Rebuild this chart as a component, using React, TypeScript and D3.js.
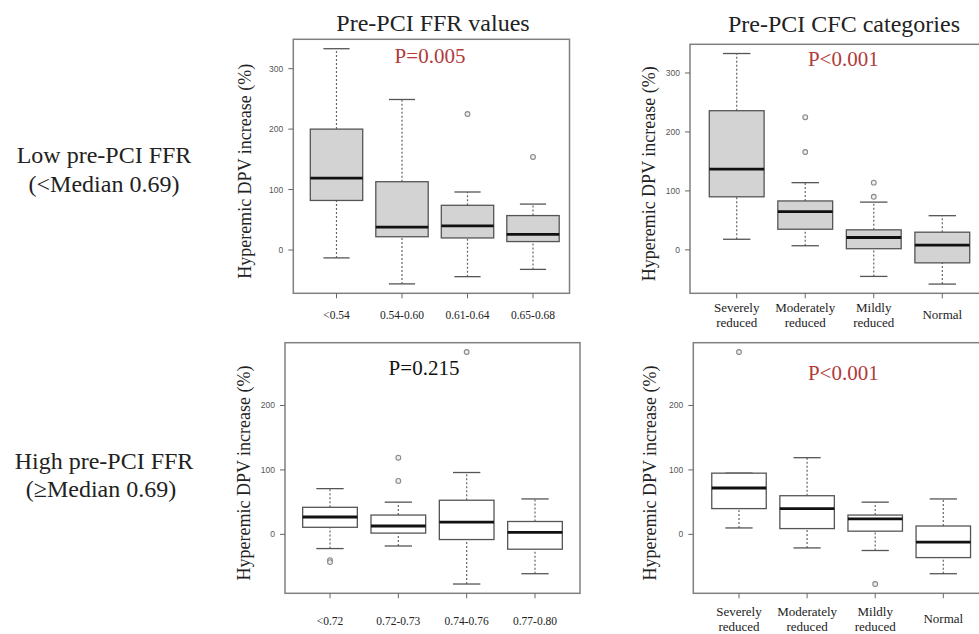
import React from 'react';
import * as d3 from 'd3';

// categories
const lowFfrCats = ['<0.54', '0.54-0.60', '0.61-0.64', '0.65-0.68'];
const highFfrCats = ['<0.72', '0.72-0.73', '0.74-0.76', '0.77-0.80'];
const cfcCats = ['Severely reduced', 'Moderately reduced', 'Mildly reduced', 'Normal'];

// box stats: [lower whisker, Q1, median, Q3, upper whisker]
const lowFfrStats = [
  [-13, 82, 119, 200, 333],
  [-56, 22, 38, 113, 249],
  [-44, 20, 40, 74, 96],
  [-32, 14, 26, 57, 76],
];
const lowFfrOutliers = [[], [], [225], [154]];

const lowCfcStats = [
  [18, 90, 137, 236, 333],
  [7, 35, 65, 83, 114],
  [-45, 2, 21, 34, 81],
  [-58, -22, 8, 30, 58],
];
const lowCfcOutliers = [[], [225, 166], [114, 90], []];

const highFfrStats = [
  [-22, 11, 27, 42, 71],
  [-18, 2, 13, 30, 50],
  [-77, -8, 19, 53, 96],
  [-61, -23, 3, 20, 55],
];
const highFfrOutliers = [[-40, -43], [119, 83], [283], []];

const highCfcStats = [
  [10, 40, 72, 95, 95],
  [-21, 9, 40, 60, 119],
  [-25, 5, 24, 30, 50],
  [-61, -36, -12, 13, 55],
];
const highCfcOutliers = [[283], [], [-77], []];

const topTicks = [0, 100, 200, 300];
const bottomTicks = [0, 100, 200];

const serif = '"Liberation Serif", "Times New Roman", serif';
const sans = '"Liberation Sans", Arial, sans-serif';
const red = '#b23a3a';

const Panel = (props) => {
  const { cats, stats, outliers, ticks, frame, xs, fill, pText, pColor, pPos, yLabelX, labelY, twoLine } = props;

  // R-style ylim: data range extended by 4%
  const all = stats.flat().concat(outliers.flat());
  const [lo, hi] = d3.extent(all);
  const pad = (hi - lo) * 0.04;
  const y = d3.scaleLinear().domain([lo - pad, hi + pad]).range([frame.bottom, frame.top]);
  const x = d3.scalePoint().domain(cats).range(xs);
  const step = (xs[1] - xs[0]) / (cats.length - 1);
  const bw = step * 0.8;

  return (
    <g>
      {stats.map((s, i) => {
        const cx = x(cats[i]);
        return (
          <g key={i}>
            <line x1={cx} x2={cx} y1={y(s[0])} y2={y(s[1])} stroke="#666" strokeWidth={1.2} strokeDasharray="2,2" />
            <line x1={cx} x2={cx} y1={y(s[3])} y2={y(s[4])} stroke="#666" strokeWidth={1.2} strokeDasharray="2,2" />
            <line x1={cx - bw / 4} x2={cx + bw / 4} y1={y(s[0])} y2={y(s[0])} stroke="#555" strokeWidth={1.3} />
            <line x1={cx - bw / 4} x2={cx + bw / 4} y1={y(s[4])} y2={y(s[4])} stroke="#555" strokeWidth={1.3} />
            <rect x={cx - bw / 2} y={y(s[3])} width={bw} height={y(s[1]) - y(s[3])} fill={fill} stroke="#555" strokeWidth={1.3} />
            <line x1={cx - bw / 2} x2={cx + bw / 2} y1={y(s[2])} y2={y(s[2])} stroke="#111" strokeWidth={2.8} />
            {outliers[i].map((o, j) => (
              <circle key={j} cx={cx} cy={y(o)} r={2.4} fill="#eee" stroke="#888" strokeWidth={1.1} />
            ))}
          </g>
        );
      })}
      <rect x={frame.left} y={frame.top} width={frame.right - frame.left} height={frame.bottom - frame.top} fill="none" stroke="#808080" strokeWidth={1.5} />
      {ticks.map((t) => (
        <g key={t}>
          <line x1={frame.left - 5} x2={frame.left} y1={y(t)} y2={y(t)} stroke="#666" strokeWidth={1} />
          <text x={frame.left - 10} y={y(t)} dy="0.35em" textAnchor="end" fontFamily={sans} fontSize={8.5} fill="#555">
            {t}
          </text>
        </g>
      ))}
      {cats.map((c) => {
        const cx = x(c);
        const words = c.split(' ');
        return (
          <g key={c}>
            <line x1={cx} x2={cx} y1={frame.bottom} y2={frame.bottom + 5} stroke="#666" strokeWidth={1} />
            {twoLine && words.length > 1 ? (
              <text x={cx} y={labelY} textAnchor="middle" fontFamily={serif} fontSize={13} fill="#222">
                <tspan x={cx}>{words[0]}</tspan>
                <tspan x={cx} dy={15}>{words[1]}</tspan>
              </text>
            ) : (
              <text x={cx} y={twoLine ? labelY + 7 : labelY} textAnchor="middle" fontFamily={serif} fontSize={twoLine ? 13 : 11.5} fill="#222">
                {c}
              </text>
            )}
          </g>
        );
      })}
      <text transform={`translate(${yLabelX},${(frame.top + frame.bottom) / 2 + 5}) rotate(-90)`} textAnchor="middle" fontFamily={serif} fontSize={18} fill="#222">
        Hyperemic  DPV increase (%)
      </text>
      <text x={pPos[0]} y={pPos[1]} textAnchor="middle" fontFamily={serif} fontSize={21} fill={pColor}>
        {pText}
      </text>
    </g>
  );
};

export default function App() {
  return (
    <svg width={979} height={634} style={{ position: 'absolute', left: 0, top: 0, background: '#fff' }}>
      <text x={433} y={31} textAnchor="middle" fontFamily={serif} fontSize={24} fill="#222">Pre-PCI FFR values</text>
      <text x={844} y={31.5} textAnchor="middle" fontFamily={serif} fontSize={24} fill="#222">Pre-PCI CFC categories</text>

      <text x={104} y={163} textAnchor="middle" fontFamily={serif} fontSize={24} fill="#222">Low pre-PCI FFR</text>
      <text x={104} y={192} textAnchor="middle" fontFamily={serif} fontSize={24} fill="#222">(&lt;Median 0.69)</text>
      <text x={104} y={469} textAnchor="middle" fontFamily={serif} fontSize={24} fill="#222">High pre-PCI FFR</text>
      <text x={101} y={497} textAnchor="middle" fontFamily={serif} fontSize={24} fill="#222">(≥Median 0.69)</text>

      <Panel
        cats={lowFfrCats}
        stats={lowFfrStats}
        outliers={lowFfrOutliers}
        ticks={topTicks}
        frame={{ left: 293.3, right: 569.5, top: 39.3, bottom: 293.3 }}
        xs={[336.5, 533]}
        fill="#d3d3d3"
        pText="P=0.005"
        pColor={red}
        pPos={[430, 63]}
        yLabelX={250.5}
        labelY={319}
      />
      <Panel
        cats={cfcCats}
        stats={lowCfcStats}
        outliers={lowCfcOutliers}
        ticks={topTicks}
        frame={{ left: 690, right: 995, top: 44.3, bottom: 293.3 }}
        xs={[736.7, 942.3]}
        fill="#d3d3d3"
        pText="P<0.001"
        pColor={red}
        pPos={[843.3, 66]}
        yLabelX={655}
        labelY={312}
        twoLine
      />
      <Panel
        cats={highFfrCats}
        stats={highFfrStats}
        outliers={highFfrOutliers}
        ticks={bottomTicks}
        frame={{ left: 285, right: 580, top: 342.7, bottom: 593.3 }}
        xs={[330, 535]}
        fill="#fff"
        pText="P=0.215"
        pColor="#111"
        pPos={[424, 375]}
        yLabelX={250}
        labelY={625}
      />
      <Panel
        cats={cfcCats}
        stats={highCfcStats}
        outliers={highCfcOutliers}
        ticks={bottomTicks}
        frame={{ left: 693.3, right: 995, top: 342.7, bottom: 593.3 }}
        xs={[739, 943.3]}
        fill="#fff"
        pText="P<0.001"
        pColor={red}
        pPos={[843.3, 380]}
        yLabelX={656}
        labelY={616}
        twoLine
      />
    </svg>
  );
}
